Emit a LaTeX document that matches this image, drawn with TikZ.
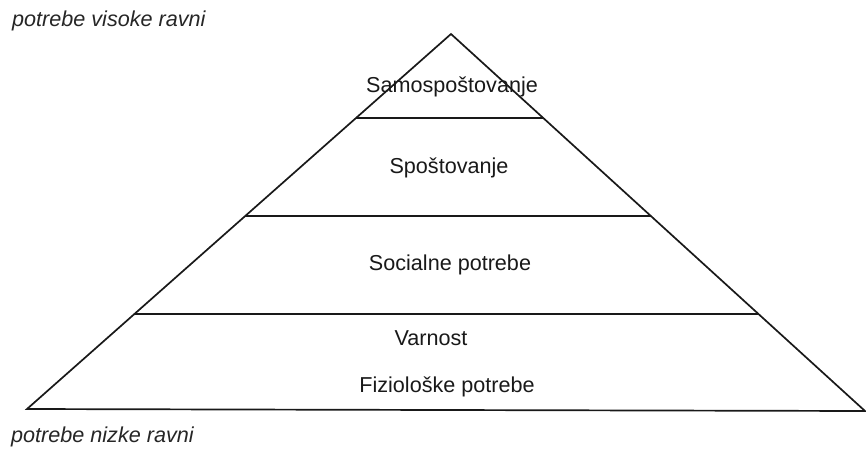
\documentclass[tikz,border=0pt]{standalone}
\usepackage{fontspec}
\setmainfont{Liberation Sans}
\usetikzlibrary{calc}
\tikzset{
  edge/.style={line width=1.7pt, draw=black!90, line join=miter},
  lvl/.style={line width=1.8pt, draw=black!90},
  lbl/.style={anchor=base, inner sep=0pt, font=\fontsize{21.6}{25}\selectfont, text=black!90},
  side/.style={anchor=base west, inner sep=0pt, font=\fontsize{21.6}{25}\selectfont\itshape, text=black!85}
}
\begin{document}
\begin{tikzpicture}[x=1pt,y=-1pt]
\useasboundingbox (0,0) rectangle (866,450);
\coordinate (A) at (451,34);
\coordinate (L) at (27,409);
\coordinate (R) at (865,411);
\draw[edge] (L) -- (A) -- (R) -- cycle;
% level lines
\coordinate (l1) at ($(A)!{(118-34)/375}!(L)$);
\coordinate (r1) at ($(A)!{(118-34)/377}!(R)$);
\coordinate (l2) at ($(A)!{(216-34)/375}!(L)$);
\coordinate (r2) at ($(A)!{(216-34)/377}!(R)$);
\coordinate (l3) at ($(A)!{(314-34)/375}!(L)$);
\coordinate (r3) at ($(A)!{(314-34)/377}!(R)$);
\draw[lvl] (l1) -- (r1);
\draw[lvl] (l2) -- (r2);
\draw[lvl] (l3) -- (r3);
% texts
\node[lbl] (t1) at (452,92) {Samospoštovanje};
\node[lbl] (t2) at (449,173) {Spoštovanje};
\node[lbl] (t3) at (450,270) {Socialne potrebe};
\node[lbl] (t4) at (431,345) {Varnost};
\node[lbl] (t5) at (447,392) {Fiziološke potrebe};
\node[side] (hi) at (12,26) {potrebe visoke ravni};
\node[side] (lo) at (11,442) {potrebe nizke ravni};
\end{tikzpicture}
\end{document}
